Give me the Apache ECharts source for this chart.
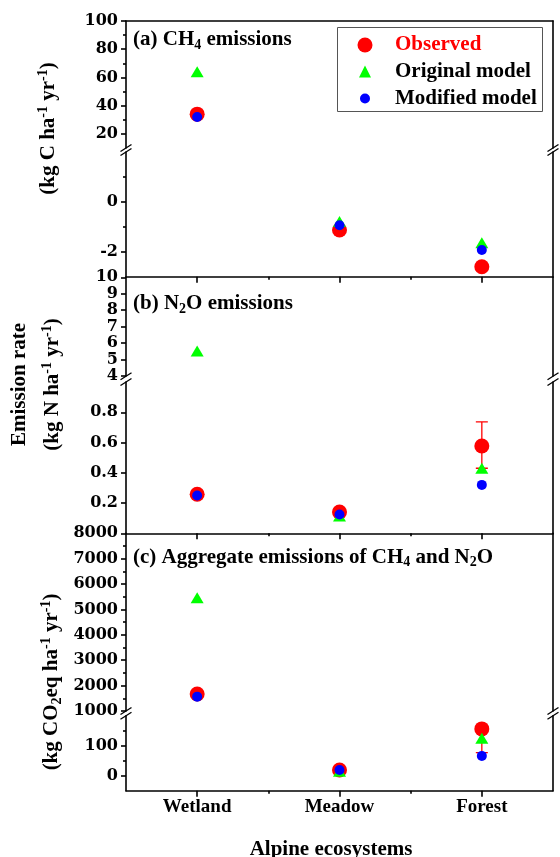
<!DOCTYPE html>
<html><head><meta charset="utf-8">
<script src="https://cdn.jsdelivr.net/npm/echarts@6/dist/echarts.min.js"></script>
<style>html,body{margin:0;padding:0;background:#fff}#c{width:560px;height:857px}</style>
</head><body><div id="c"></div>
<script>
// ---------- data ----------
const categories = ['Wetland', 'Meadow', 'Forest'];
const seriesNames = ['Observed', 'Original model', 'Modified model'];

// (a) CH4 emissions (kg C ha-1 yr-1)
const ch4Observed = [34, -1.13, -2.6];
const ch4Original = [64, -0.79, -1.64];
const ch4Modified = [32, -0.94, -1.93];
const ch4ObservedError = [null, null, null];

// (b) N2O emissions (kg N ha-1 yr-1)
const n2oObserved = [0.258, 0.14, 0.577];
const n2oOriginal = [5.52, 0.115, 0.43];
const n2oModified = [0.25, 0.124, 0.32];
const n2oObservedError = [null, null, [0.43, 0.736]];

// (c) Aggregate emissions (kg CO2eq ha-1 yr-1)
const co2Observed = [1671, 19, 156];
const co2Original = [5464, 15, 125];
const co2Modified = [1565, 19, 66];
const co2ObservedError = [null, null, [77, 156]];

// broken y axes: ranges and tick labels
const ch4UpperRange = [10, 100];
const ch4UpperTicks = [20, 40, 60, 80, 100];
const ch4UpperMinor = [30, 50, 70, 90];
const ch4LowerRange = [-3, 2];
const ch4LowerTicks = [-2, 0];
const ch4LowerMinor = [-1, 1];
const n2oUpperRange = [4, 10];
const n2oUpperTicks = [4, 5, 6, 7, 8, 9, 10];
const n2oUpperMinor = [];
const n2oLowerRange = [0, 1];
const n2oLowerTicks = [0.2, 0.4, 0.6, 0.8];
const n2oLowerMinor = [];
const co2UpperRange = [1000, 8000];
const co2UpperTicks = [1000, 2000, 3000, 4000, 5000, 6000, 7000, 8000];
const co2UpperMinor = [1500, 2500, 3500, 4500, 5500, 6500, 7500];
const co2LowerRange = [-50, 200];
const co2LowerTicks = [0, 100];
const co2LowerMinor = [50, 150];

const xTicks = [1, 2, 3];
const xMinorTicks = [1.5, 2.5];

// ---------- layout / style ----------
const serif = 'Liberation Serif';
const tickFont = 'DejaVu Serif';
const LW = 1.6;
const GL = 126, GR = 7;
const panels = [
  [ch4Observed, ch4Original, ch4Modified, ch4ObservedError],
  [n2oObserved, n2oOriginal, n2oModified, n2oObservedError],
  [co2Observed, co2Original, co2Modified, co2ObservedError]
];
const segs = [
  {panel: 0, lower: false, top: 21, height: 127, range: ch4UpperRange, ticks: ch4UpperTicks, minor: ch4UpperMinor},
  {panel: 0, lower: true, top: 152, height: 124.7, range: ch4LowerRange, ticks: ch4LowerTicks, minor: ch4LowerMinor},
  {panel: 1, lower: false, top: 277.3, height: 98.7, range: n2oUpperRange, ticks: n2oUpperTicks, minor: n2oUpperMinor},
  {panel: 1, lower: true, top: 382, height: 151.3, range: n2oLowerRange, ticks: n2oLowerTicks, minor: n2oLowerMinor},
  {panel: 2, lower: false, top: 533.3, height: 177.7, range: co2UpperRange, ticks: co2UpperTicks, minor: co2UpperMinor},
  {panel: 2, lower: true, top: 715.7, height: 75, range: co2LowerRange, ticks: co2LowerTicks, minor: co2LowerMinor}
];
const symbols = ['circle', 'triangle', 'circle'];
const sizes = [15, [13, 11], 10];
const colors = ['#ff0000', '#00ff00', '#0000ff'];

const grid = [], xAxis = [], yAxis = [], series = [];
const lineStyle = {color: '#000', width: LW};

segs.forEach((s, i) => {
  grid.push({left: GL, right: GR, top: s.top, height: s.height, containLabel: false, outerBoundsMode: 'none'});
  const xi = xAxis.length;
  xAxis.push({
    type: 'value', gridIndex: i, min: 0.5, max: 3.5,
    position: s.lower ? 'bottom' : 'top',
    show: s.lower || i === 0,
    axisLine: {show: true, onZero: false, lineStyle},
    axisTick: {show: s.lower, customValues: xTicks, length: 6, inside: false, lineStyle},
    axisLabel: {
      show: s.lower && s.panel === 2, customValues: xTicks, margin: 7,
      formatter: v => categories[Math.round(v) - 1] || '',
      fontFamily: serif, fontWeight: 'bold', fontSize: 19, color: '#000'
    },
    splitLine: {show: false}
  });
  if (s.lower) {
    xAxis.push({
      type: 'value', gridIndex: i, min: 0.5, max: 3.5, position: 'bottom',
      axisLine: {show: false, onZero: false},
      axisTick: {show: true, customValues: xMinorTicks, length: 3, lineStyle},
      axisLabel: {show: false}, splitLine: {show: false}
    });
  }
  const yi = yAxis.length;
  yAxis.push({
    type: 'value', gridIndex: i, min: s.range[0], max: s.range[1], position: 'left',
    axisLine: {show: true, onZero: false, lineStyle},
    axisTick: {show: true, customValues: s.ticks, length: 5, lineStyle},
    axisLabel: {
      show: true, customValues: s.ticks, margin: 8,
      formatter: v => String(v),
      fontFamily: tickFont, fontWeight: 'bold', fontSize: 16, color: '#000'
    },
    splitLine: {show: false}
  });
  if (s.minor.length) {
    yAxis.push({
      type: 'value', gridIndex: i, min: s.range[0], max: s.range[1], position: 'left',
      axisLine: {show: false, onZero: false},
      axisTick: {show: true, customValues: s.minor, length: 3, lineStyle},
      axisLabel: {show: false}, splitLine: {show: false}
    });
  }
  yAxis.push({
    type: 'value', gridIndex: i, min: s.range[0], max: s.range[1], position: 'right',
    axisLine: {show: true, onZero: false, lineStyle},
    axisTick: {show: false}, axisLabel: {show: false}, splitLine: {show: false}
  });

  const pd = panels[s.panel];
  // error bars (observed)
  const errRows = [];
  pd[3].forEach((e, k) => { if (e) errRows.push([k + 1, e[0], e[1], pd[0][k]]); });
  if (errRows.length) {
    series.push({
      type: 'custom', name: 'Observed error', xAxisIndex: xi, yAxisIndex: yi, z: 1,
      clip: true, silent: true,
      encode: {x: 0, y: [1, 2]},
      data: errRows,
      renderItem(params, api) {
        const x = api.value(0), lo = api.value(1), hi = api.value(2);
        const a = api.coord([x, lo]), b = api.coord([x, hi]);
        const st = {stroke: '#ff0000', lineWidth: 1.3};
        return {type: 'group', children: [
          {type: 'line', shape: {x1: a[0], y1: a[1], x2: b[0], y2: b[1]}, style: st},
          {type: 'line', shape: {x1: a[0] - 6, y1: a[1], x2: a[0] + 6, y2: a[1]}, style: st},
          {type: 'line', shape: {x1: b[0] - 6, y1: b[1], x2: b[0] + 6, y2: b[1]}, style: st}
        ]};
      }
    });
  }
  for (let k = 0; k < 3; k++) {
    series.push({
      type: 'scatter', name: seriesNames[k], xAxisIndex: xi, yAxisIndex: yi,
      symbol: symbols[k], symbolSize: sizes[k], clip: true,
      itemStyle: {color: colors[k], opacity: 1},
      data: pd[k].map((v, j) => [j + 1, v])
    });
  }
});

// legend (one component per entry so marker sizes can differ)
const legendRows = [43, 69.5, 96.5];
const legendIcon = [15, 12, 10];
const legendMarkerX = 365, legendTextX = 395;
const legend = seriesNames.map((n, k) => ({
  data: [{name: n, textStyle: {color: k === 0 ? '#ff0000' : '#000'}}],
  left: legendMarkerX - legendIcon[k] / 2, top: legendRows[k] - 8.5, orient: 'horizontal',
  itemWidth: legendIcon[k], itemHeight: legendIcon[k], itemGap: 0, padding: 0,
  textStyle: {
    fontFamily: serif, fontWeight: 'bold', fontSize: 21, color: '#000',
    padding: [0, 0, 0, legendTextX - (legendMarkerX + legendIcon[k] / 2 + 5)]
  }
}));

// rich text helpers
const baseFont = {fontFamily: serif, fontWeight: 'bold', fontSize: 21};
const rich = {
  sub: {fontFamily: serif, fontWeight: 'bold', fontSize: 14, padding: [10, 0, 0, 0]},
  sup: {fontFamily: serif, fontWeight: 'bold', fontSize: 14, padding: [0, 0, 12, 0]}
};
function txt(text, x, y, opts) {
  opts = opts || {};
  return {
    type: 'text', x, y, rotation: opts.rot || 0, z: 10,
    style: Object.assign({
      text, rich, fill: '#000',
      align: opts.align || 'center', verticalAlign: 'middle',
      textAlign: opts.align || 'center', textVerticalAlign: 'middle'
    }, baseFont)
  };
}

const graphic = [];
graphic.push({type: 'rect', z: 0, shape: {x: 337.5, y: 27.5, width: 205, height: 84},
  style: {fill: '#fff', stroke: '#555', lineWidth: 1}});
graphic.push(txt('(a) CH{sub|4} emissions', 133, 40, {align: 'left'}));
graphic.push(txt('(b) N{sub|2}O emissions', 133, 304, {align: 'left'}));
graphic.push(txt('(c) Aggregate emissions of CH{sub|4} and N{sub|2}O', 133, 557.5, {align: 'left'}));
graphic.push(txt('(kg C ha{sup|-1} yr{sup|-1})', 49, 128.5, {rot: Math.PI / 2}));
graphic.push(txt('Emission rate', 19.5, 384.5, {rot: Math.PI / 2}));
graphic.push(txt('(kg N ha{sup|-1} yr{sup|-1})', 53, 384.5, {rot: Math.PI / 2}));
graphic.push(txt('(kg CO{sub|2}eq ha{sup|-1} yr{sup|-1})', 52, 682, {rot: Math.PI / 2}));
graphic.push(txt('Alpine ecosystems', 331, 849.5));

// axis break marks
const gaps = [[148, 152], [376.3, 382], [711, 715.7]];
[GL, 560 - GR].forEach(x => {
  gaps.forEach(g => {
    g.forEach(y => {
      graphic.push({type: 'line', z: 10, shape: {x1: x - 5.5, y1: y + 3.5, x2: x + 5.5, y2: y - 3.5},
        style: {stroke: '#000', lineWidth: 1.3}});
    });
  });
});

const chart = echarts.init(document.getElementById('c'), null, {renderer: 'canvas', width: 560, height: 857});
chart.setOption({
  animation: false,
  backgroundColor: '#fff',
  grid, xAxis, yAxis, series, legend, graphic
});
</script>
</body></html>
